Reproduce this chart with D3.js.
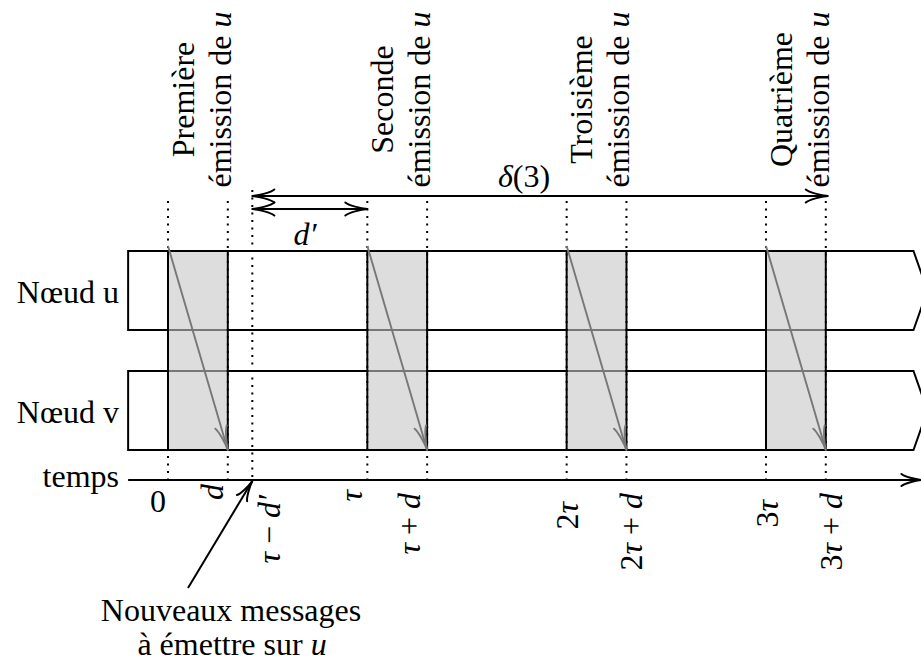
<!DOCTYPE html>
<html><head><meta charset="utf-8">
<script src="https://cdn.jsdelivr.net/npm/d3@7"></script>
<style>
body{margin:0;background:#fff}
svg{display:block}
text{font-family:"Liberation Serif","Times New Roman",serif;font-size:32px;fill:#000}
</style>
</head><body>
<svg id="c" width="921" height="662"></svg>
<script>
// ---------------- data ----------------
const nodes = ["u", "v"];
const nodeLabels = ["Nœud u", "Nœud v"];
const emissionIndex = [0, 1, 2, 3];                       // k-th emission starts at k·τ
const emissionOrdinals = ["Première", "Seconde", "Troisième", "Quatrième"];
const TAU = 1, D = 0.3, D_PRIME = 0.577;                   // time in units of τ
const tickValues = [0, D, TAU - D_PRIME, TAU, TAU + D, 2 * TAU, 2 * TAU + D, 3 * TAU, 3 * TAU + D];
const tickLabels = ["0", "d", "τ − d′", "τ", "τ + d", "2τ", "2τ + d", "3τ", "3τ + d"];
const axisExtent = [-0.2, 3.78];
const nodeExtent = [-0.2, 3.74];
const deltaLabel = "δ(3)";
const dPrimeLabel = "d′";
const pointerLines = ["Nouveaux messages", "à émettre sur u"];

// ---------------- layout (styles / nudges) ----------------
const tickNudge = [
  {dx: -10, y: 512, upright: true},
  {dx: -5, y: 484}, {dx: 28, y: 495}, {dx: -5, y: 490}, {dx: -7, y: 493},
  {dx: 11, y: 502}, {dx: 16, y: 493}, {dx: 12, y: 500}, {dx: 16, y: 493}
];

const svg = d3.select("#c");
const x = d3.scaleLinear().domain([0, 1]).range([168, 367.33]);
const y = d3.scaleBand().domain(nodes).range([251, 450]).paddingInner(41 / 120).paddingOuter(0);
const bw = y.bandwidth();
const axisY = 480;
const dotTop = 201, dotTopLong = 190;
const deltaY = 196, dPrimeY = 209;
const SW = 2;

function arrowHead(g, tx, ty, angleDeg, L, w, color, sw) {
  g.append("path")
    .attr("d", `M${-L},${-w} C${-0.85 * L},${-0.55 * w} ${-0.3 * L},${-0.08 * w} 0,0 C${-0.3 * L},${0.08 * w} ${-0.85 * L},${0.55 * w} ${-L},${w}`)
    .attr("transform", `translate(${tx},${ty}) rotate(${angleDeg})`)
    .attr("fill", "none").attr("stroke", color).attr("stroke-width", sw)
    .attr("stroke-linecap", "round").attr("stroke-linejoin", "round");
}
function mathText(sel, str) {
  const parts = str.match(/[A-Za-zα-ωδτ]′?|[^A-Za-zα-ωδτ]+/g) || [];
  parts.forEach(p => {
    const t = sel.append("tspan").text(p);
    if (/[A-Za-zα-ωδτ]/.test(p)) t.attr("font-style", "italic");
  });
}

// dotted guide lines
svg.append("g").selectAll("line").data(tickValues).join("line")
  .attr("x1", v => x(v)).attr("x2", v => x(v))
  .attr("y1", (v, i) => i === 2 ? dotTopLong : dotTop).attr("y2", axisY)
  .attr("stroke", "#000").attr("stroke-width", 2).attr("stroke-dasharray", "2,5.5");

// node shapes (open on the right with a chevron)
const gN = svg.append("g");
nodes.forEach(n => {
  const x0 = x(nodeExtent[0]), x1 = x(nodeExtent[1]);
  const y0 = y(n), y1 = y(n) + bw;
  gN.append("path")
    .attr("d", `M${x1},${y0} L${x0},${y0} L${x0},${y1} L${x1},${y1} L${x1 + 14},${(y0 + y1) / 2} Z`)
    .attr("fill", "none").attr("stroke", "#000").attr("stroke-width", SW).attr("stroke-linejoin", "miter");
});

// shaded emission periods
const yTop = y(nodes[0]), yBot = y(nodes[1]) + bw;
const gS = svg.append("g");
gS.selectAll("rect").data(emissionIndex).join("rect")
  .attr("x", k => x(k * TAU) + 1).attr("width", k => x(k * TAU + D) - x(k * TAU) - 2)
  .attr("y", yTop + 1).attr("height", yBot - yTop - 2)
  .attr("fill", "#c6c6c6").attr("fill-opacity", 0.6);
emissionIndex.forEach(k => {
  [k * TAU, k * TAU + D].forEach(t => {
    gS.append("line").attr("x1", x(t)).attr("x2", x(t)).attr("y1", yTop).attr("y2", yBot)
      .attr("stroke", "#000").attr("stroke-width", SW);
  });
  // transmission arrow u -> v
  const sx = x(k * TAU), sy = yTop - 5, ex = x(k * TAU + D), ey = yBot;
  gS.append("line").attr("x1", sx).attr("y1", sy).attr("x2", ex).attr("y2", ey)
    .attr("stroke", "#777").attr("stroke-width", 1.9);
  arrowHead(gS, ex, ey, Math.atan2(ey - sy, ex - sx) * 180 / Math.PI, 24, 6, "#777", 1.9);
});

// time axis
svg.append("line").attr("x1", x(axisExtent[0])).attr("x2", x(axisExtent[1]) - 1)
  .attr("y1", axisY).attr("y2", axisY).attr("stroke", "#000").attr("stroke-width", SW);
arrowHead(svg, x(axisExtent[1]), axisY, 0, 20, 6, "#000", SW);

// double arrows
function dblArrow(t0, t1, yy) {
  svg.append("line").attr("x1", x(t0)).attr("x2", x(t1)).attr("y1", yy).attr("y2", yy)
    .attr("stroke", "#000").attr("stroke-width", SW);
  arrowHead(svg, x(t0), yy, 180, 22, 6.5, "#000", SW);
  arrowHead(svg, x(t1), yy, 0, 22, 6.5, "#000", SW);
}
dblArrow(TAU - D_PRIME, 3 * TAU + D + 0.01, deltaY);
dblArrow(TAU - D_PRIME, TAU, dPrimeY);
mathText(svg.append("text").attr("x", 524).attr("y", 187).attr("text-anchor", "middle"), deltaLabel);
mathText(svg.append("text").attr("x", 305).attr("y", 245).attr("text-anchor", "middle"), dPrimeLabel);

// node labels
svg.append("g").selectAll("text").data(nodes).join("text")
  .attr("x", 119).attr("y", n => y(n) + bw / 2 + 12).attr("text-anchor", "end")
  .text((n, i) => nodeLabels[i]);
svg.append("text").attr("x", 119).attr("y", 487).attr("text-anchor", "end").text("temps");

// emission labels (rotated, two lines)
emissionIndex.forEach((k, i) => {
  const g = svg.append("g").attr("transform", `translate(${x(k * TAU + D)},99.5) rotate(-90)`);
  g.append("text").attr("x", 0).attr("y", -34).attr("text-anchor", "middle").text(emissionOrdinals[i]);
  const t = g.append("text").attr("x", 0).attr("y", 3).attr("text-anchor", "middle");
  t.append("tspan").text("émission de ");
  t.append("tspan").attr("font-style", "italic").text("u");
});

// tick labels
tickValues.forEach((v, i) => {
  const n = tickNudge[i];
  if (n.upright) {
    svg.append("text").attr("x", x(v) + n.dx).attr("y", n.y).attr("text-anchor", "middle").text(tickLabels[i]);
  } else {
    const t = svg.append("g").attr("transform", `translate(${x(v) + n.dx},${n.y}) rotate(-90)`)
      .append("text").attr("text-anchor", "end");
    mathText(t, tickLabels[i]);
  }
});

// pointer annotation
const pTip = [x(TAU - D_PRIME), axisY + 1], pStart = [188, 588];
svg.append("line").attr("x1", pStart[0]).attr("y1", pStart[1]).attr("x2", pTip[0]).attr("y2", pTip[1])
  .attr("stroke", "#000").attr("stroke-width", SW);
arrowHead(svg, pTip[0], pTip[1], Math.atan2(pTip[1] - pStart[1], pTip[0] - pStart[0]) * 180 / Math.PI, 20, 6, "#000", SW);
svg.append("text").attr("x", 231).attr("y", 621).attr("text-anchor", "middle").text(pointerLines[0]);
const p2 = svg.append("text").attr("x", 232).attr("y", 655).attr("text-anchor", "middle");
p2.append("tspan").text("à émettre sur ");
p2.append("tspan").attr("font-style", "italic").text("u");
</script>
</body></html>
